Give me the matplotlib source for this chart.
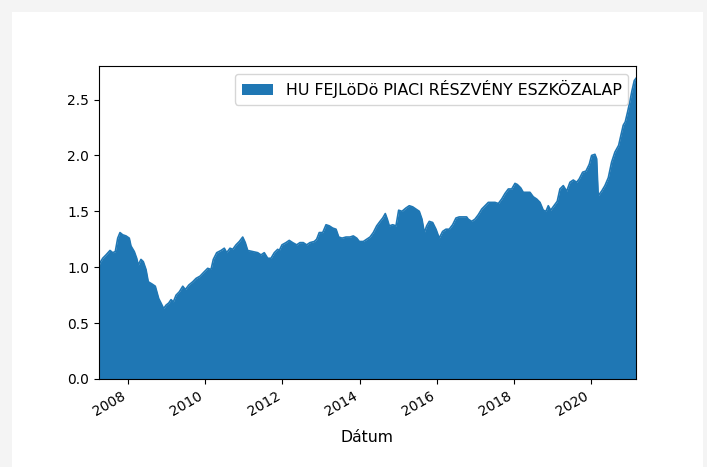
import pandas as pd
import numpy as np
import matplotlib
matplotlib.use("Agg")
import matplotlib.pyplot as plt
from matplotlib.patches import Rectangle

# Fund price, dates as decimal years
years = [
    2007.246, 2007.272, 2007.342, 2007.427, 2007.531, 2007.601, 2007.668, 2007.731,
    2007.790, 2007.860, 2007.946, 2008.031, 2008.075, 2008.161, 2008.223, 2008.264,
    2008.334, 2008.394, 2008.464, 2008.523, 2008.619, 2008.705, 2008.793, 2008.852,
    2008.922, 2008.982, 2009.052, 2009.111, 2009.171, 2009.241, 2009.326, 2009.415,
    2009.482, 2009.570, 2009.674, 2009.759, 2009.863, 2009.974, 2010.062, 2010.148,
    2010.207, 2010.295, 2010.407, 2010.492, 2010.554, 2010.640, 2010.710, 2010.795,
    2010.881, 2010.969, 2011.036, 2011.098, 2011.228, 2011.358, 2011.443, 2011.528,
    2011.617, 2011.702, 2011.788, 2011.876, 2011.917, 2011.987, 2012.091, 2012.176,
    2012.264, 2012.368, 2012.453, 2012.539, 2012.627, 2012.712, 2012.824, 2012.886,
    2012.953, 2013.041, 2013.127, 2013.212, 2013.301, 2013.386, 2013.456, 2013.541,
    2013.645, 2013.749, 2013.834, 2013.922, 2013.990, 2014.093, 2014.181, 2014.267,
    2014.352, 2014.440, 2014.526, 2014.596, 2014.663, 2014.715, 2014.767, 2014.855,
    2014.940, 2015.010, 2015.096, 2015.199, 2015.285, 2015.373, 2015.459, 2015.544,
    2015.614, 2015.674, 2015.736, 2015.803, 2015.891, 2015.977, 2016.062, 2016.150,
    2016.236, 2016.321, 2016.409, 2016.495, 2016.580, 2016.668, 2016.772, 2016.813,
    2016.902, 2016.987, 2017.073, 2017.161, 2017.246, 2017.332, 2017.420, 2017.505,
    2017.591, 2017.679, 2017.764, 2017.850, 2017.938, 2018.023, 2018.083, 2018.171,
    2018.238, 2018.326, 2018.412, 2018.497, 2018.585, 2018.671, 2018.756, 2018.826,
    2018.886, 2018.948, 2019.034, 2019.119, 2019.189, 2019.275, 2019.363, 2019.448,
    2019.534, 2019.622, 2019.689, 2019.777, 2019.863, 2019.948, 2020.010, 2020.096,
    2020.140, 2020.181, 2020.269, 2020.355, 2020.442, 2020.528, 2020.614, 2020.710,
    2020.769, 2020.829, 2020.881, 2020.943, 2021.003, 2021.054, 2021.114, 2021.158,
]
prices = [
    1.01, 1.04, 1.08, 1.11, 1.15, 1.13, 1.14, 1.26,
    1.31, 1.29, 1.28, 1.26, 1.19, 1.14, 1.08, 1.02,
    1.07, 1.05, 0.98, 0.87, 0.85, 0.83, 0.72, 0.68,
    0.63, 0.66, 0.68, 0.71, 0.69, 0.75, 0.78, 0.83,
    0.80, 0.84, 0.87, 0.90, 0.92, 0.96, 0.99, 0.98,
    1.07, 1.13, 1.15, 1.17, 1.13, 1.17, 1.16, 1.20,
    1.23, 1.27, 1.22, 1.15, 1.14, 1.13, 1.11, 1.13,
    1.08, 1.08, 1.13, 1.16, 1.15, 1.20, 1.22, 1.24,
    1.22, 1.20, 1.22, 1.22, 1.20, 1.22, 1.23, 1.25,
    1.31, 1.31, 1.38, 1.37, 1.35, 1.34, 1.27, 1.26,
    1.27, 1.27, 1.28, 1.26, 1.23, 1.23, 1.25, 1.27,
    1.31, 1.37, 1.41, 1.44, 1.48, 1.43, 1.37, 1.38,
    1.37, 1.51, 1.50, 1.53, 1.55, 1.54, 1.52, 1.50,
    1.43, 1.31, 1.37, 1.41, 1.40, 1.34, 1.26, 1.32,
    1.34, 1.34, 1.38, 1.44, 1.45, 1.45, 1.45, 1.43,
    1.41, 1.43, 1.47, 1.52, 1.55, 1.58, 1.58, 1.58,
    1.57, 1.61, 1.66, 1.70, 1.70, 1.75, 1.74, 1.71,
    1.67, 1.67, 1.67, 1.63, 1.61, 1.58, 1.51, 1.50,
    1.55, 1.51, 1.55, 1.59, 1.70, 1.73, 1.68, 1.76,
    1.78, 1.76, 1.79, 1.85, 1.86, 1.92, 2.00, 2.01,
    1.97, 1.64, 1.68, 1.73, 1.80, 1.94, 2.03, 2.09,
    2.18, 2.27, 2.30, 2.39, 2.49, 2.58, 2.67, 2.69,
]
label = "HU FEJLöDö PIACI RÉSZVÉNY ESZKÖZALAP"


def to_date(y):
    return pd.Timestamp(int(y), 1, 1) + pd.Timedelta(days=(y % 1) * 365.25)


dates = [to_date(y) for y in years]
s = pd.Series(prices, index=pd.DatetimeIndex(dates))

fig = plt.figure(figsize=(7.07, 4.67), dpi=100, facecolor="#f4f4f4")
# white "output cell" behind the chart
fig.patches.append(Rectangle((12 / 707, 0), 691 / 707, (467 - 12) / 467,
                             transform=fig.transFigure, facecolor="white",
                             edgecolor="none", zorder=-10))
ax = fig.add_axes([99 / 707, (467 - 379) / 467, 537 / 707, 313 / 467])

color = "#1f77b4"
ax.fill_between(s.index, 0, s.values, color=color, linewidth=0, label=label)
ax.plot(s.index, s.values, color=color, linewidth=1.2)

ax.set_xlim(s.index[0], s.index[-1])
ax.set_ylim(0, 2.8)
ax.set_xlabel("Dátum", fontsize=11.3, labelpad=8)
ax.legend(loc="upper right", fontsize=11.4)

for lbl in ax.get_xticklabels():
    lbl.set_rotation(30)
    lbl.set_ha("right")

fig.savefig("out.png", dpi=100, facecolor=fig.get_facecolor())
